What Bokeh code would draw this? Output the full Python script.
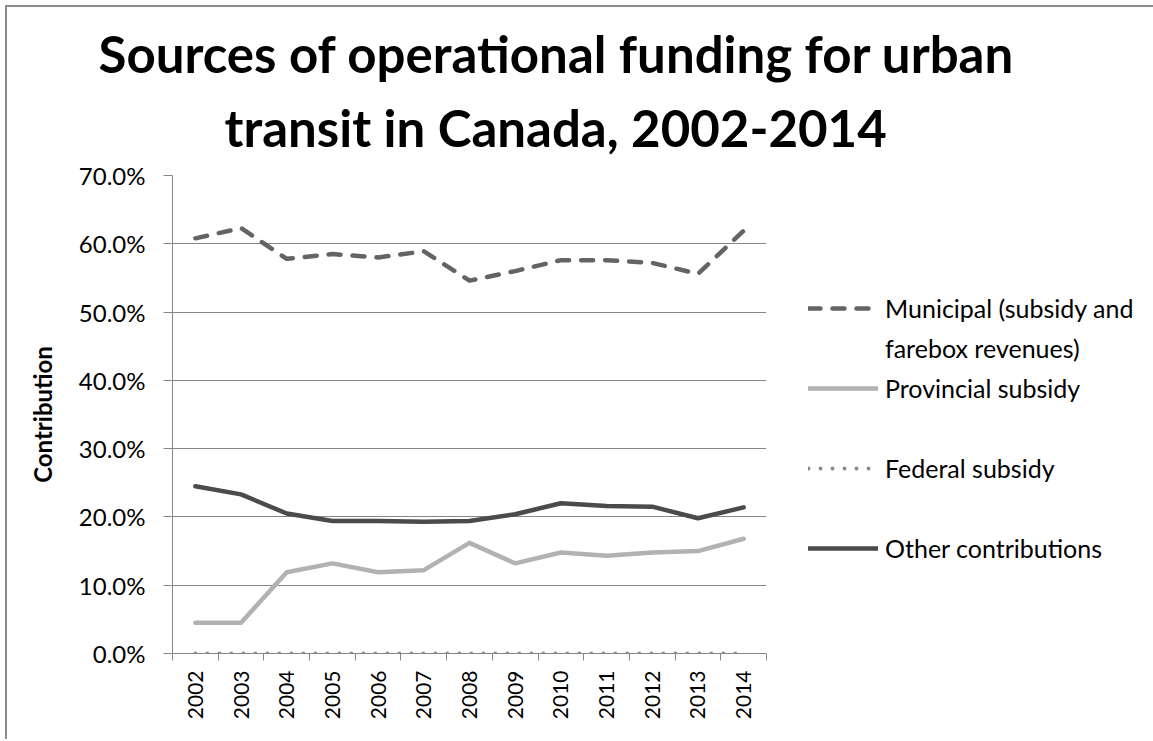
import math
from bokeh.plotting import figure
from bokeh.models import (FixedTicker, PrintfTickFormatter, Legend, LegendItem,
                          Title, Range1d)
from bokeh.embed import file_html
from bokeh.resources import INLINE

# ---- data (percent of operational funding) ----
years = [2002, 2003, 2004, 2005, 2006, 2007, 2008, 2009, 2010, 2011, 2012, 2013, 2014]
municipal = [60.8, 62.3, 57.8, 58.5, 58.0, 58.9, 54.6, 56.0, 57.6, 57.6, 57.2, 55.6, 61.9]
provincial = [4.5, 4.5, 11.9, 13.2, 11.9, 12.2, 16.2, 13.2, 14.8, 14.3, 14.8, 15.0, 16.8]
federal = [0.0, 0.0, 0.0, 0.0, 0.0, 0.0, 0.0, 0.0, 0.0, 0.0, 0.0, 0.0, 0.0]
other = [24.5, 23.3, 20.5, 19.4, 19.4, 19.3, 19.4, 20.4, 22.0, 21.6, 21.5, 19.8, 21.4]
y_ticks = [0, 10, 20, 30, 40, 50, 60, 70]
series_names = ["Municipal (subsidy and", "Provincial subsidy", "Federal subsidy",
                "Other contributions"]
legend_second_line = "farebox revenues)"
title_lines = ["Sources of operational funding for urban", "transit in Canada, 2002-2014"]
y_title = "Contribution"

FONT = "Lato"
GRAY = "#868686"

xs = [i + 0.5 for i in range(len(years))]

W, H = 1144, 732
FL, FT, FW, FH = 165, 168, 594, 478

p = figure(frame_width=FW, frame_height=FH, output_backend="svg", toolbar_location=None,
           x_range=Range1d(0, len(years)), y_range=Range1d(0, 70),
           min_border_left=FL, min_border_top=FT,
           min_border_right=W - FL - FW, min_border_bottom=H - FT - FH)
p.styles = {"margin-left": "5px", "margin-top": "5px",
            "border-left": "2px solid #8c8c8c", "border-top": "2px solid #8c8c8c"}
p.outline_line_color = None
p.background_fill_color = "white"
p.border_fill_color = "white"

# grid
p.xgrid.grid_line_color = None
p.ygrid.grid_line_color = GRAY
p.ygrid.grid_line_width = 1
p.ygrid.ticker = FixedTicker(ticks=y_ticks)

# y axis
ya = p.yaxis[0]
ya.ticker = FixedTicker(ticks=y_ticks)
ya.formatter = PrintfTickFormatter(format="%.1f%%")
ya.axis_line_color = GRAY
ya.major_tick_line_color = GRAY
ya.major_tick_in = 0
ya.major_tick_out = 9
ya.minor_tick_line_color = None
ya.major_label_text_font = FONT
ya.major_label_text_font_size = "24px"
ya.major_label_text_color = "#000000"
ya.major_label_standoff = 18
ya.axis_label = y_title
ya.axis_label_text_font = FONT
ya.axis_label_text_font_style = "bold"
ya.axis_label_text_font_size = "24px"
ya.axis_label_text_color = "#000000"
ya.axis_label_standoff = 19

# x axis
xa = p.xaxis[0]
xa.ticker = FixedTicker(ticks=xs, minor_ticks=list(range(len(years) + 1)))
xa.major_label_overrides = {x: str(y) for x, y in zip(xs, years)}
xa.axis_line_color = GRAY
xa.major_tick_line_color = None
xa.minor_tick_line_color = GRAY
xa.minor_tick_in = 0
xa.minor_tick_out = 7
xa.major_label_orientation = math.pi / 2
xa.major_label_text_font = FONT
xa.major_label_text_font_size = "21px"
xa.major_label_text_color = "#000000"
xa.major_label_standoff = 10

# series
r_mun = p.line(xs, municipal, line_color="#646464", line_width=4.5,
               line_dash="12 12", line_cap="round", line_join="round")
r_prov = p.line(xs, provincial, line_color="#b2b2b2", line_width=4.5,
                line_cap="round", line_join="round")
r_fed = p.line(xs, federal, line_color="#8c8c8c", line_width=4,
               line_dash="0 12", line_cap="round")
r_oth = p.line(xs, other, line_color="#4b4b4b", line_width=4.5,
               line_cap="round", line_join="round")
# invisible placeholder glyph used only for legend row spacing
r_blank = p.line([], [], line_alpha=0)

legend = Legend(items=[LegendItem(label=series_names[0], renderers=[r_mun]),
                       LegendItem(label=legend_second_line, renderers=[r_blank]),
                       LegendItem(label=series_names[1], renderers=[r_prov]),
                       LegendItem(label=" ", renderers=[r_blank]),
                       LegendItem(label=series_names[2], renderers=[r_fed]),
                       LegendItem(label=" ", renderers=[r_blank]),
                       LegendItem(label=series_names[3], renderers=[r_oth])],
                location=(42, 90), orientation="vertical",
                padding=0, margin=0, spacing=10,
                glyph_width=70, glyph_height=30, label_height=30,
                label_standoff=7,
                label_text_font=FONT, label_text_font_size="25px",
                label_text_color="#000000",
                border_line_color=None, background_fill_alpha=0)
p.add_layout(legend, "right")

# title: second line first (nearest the frame)
p.add_layout(Title(text=title_lines[1], align="left", offset=52, text_font=FONT,
                   text_font_size="51px", text_font_style="bold",
                   text_color="#000000", standoff=36), "above")
p.add_layout(Title(text=title_lines[0], align="left", offset=-74, text_font=FONT,
                   text_font_size="51px", text_font_style="bold",
                   text_color="#000000", standoff=-14), "above")

open("out.html", "w").write(file_html(p, INLINE))
